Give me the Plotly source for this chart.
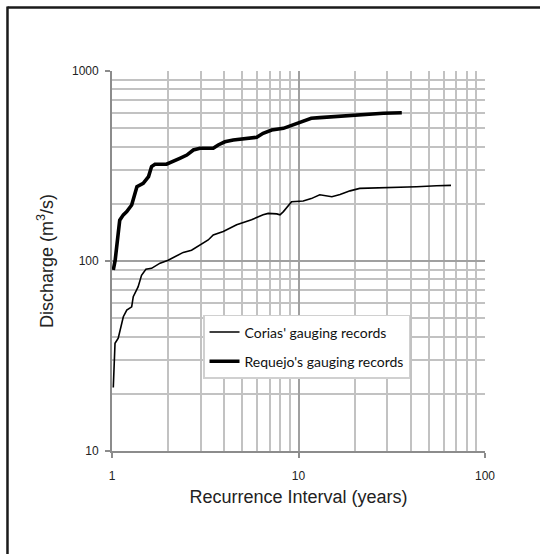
import plotly.graph_objects as go

# Corias' gauging records (thin line)
corias_x = [1.016, 1.038, 1.08, 1.15, 1.2, 1.275, 1.30, 1.38, 1.44, 1.52, 1.63, 1.81, 2.0,
            2.22, 2.41, 2.67, 3.09, 3.28, 3.49, 3.95, 4.66, 5.28, 5.6, 6.46, 6.88, 7.65,
            7.96, 8.3, 9.18, 10.6, 11.7, 13.0, 15.1, 16.7, 18.9, 21.3, 33.5, 43, 55, 65.7]
corias_y = [21.6, 36.9, 39.3, 50.9, 55.2, 57.4, 64.9, 73.1, 84, 90.5, 91.5, 97.4, 101,
            107, 111, 114, 125, 129, 137, 143, 155, 161, 165, 175, 178, 177,
            175, 182, 205, 207, 213, 223, 218, 224, 234, 241, 243, 246, 249, 250]

# Requejo's gauging records (thick line)
requejo_x = [1.016, 1.04, 1.08, 1.10, 1.15, 1.2, 1.275, 1.33, 1.36, 1.47, 1.57, 1.63, 1.70,
             1.96, 2.13, 2.31, 2.52, 2.73, 2.96, 3.49, 3.71, 4.03, 4.47, 5.28, 5.97, 6.46,
             7.18, 8.3, 9.0, 10.2, 11.7, 13.0, 15.3, 18.9, 23.2, 28.5, 35.8]
requejo_y = [89.7, 101, 140, 164, 175, 182, 197, 232, 246, 256, 278, 314, 323,
             323, 333, 347, 361, 384, 392, 392, 408, 424, 433, 442, 448, 470,
             489, 499, 513, 541, 564, 568, 575, 582, 592, 599, 603]

series_names = ["Corias' gauging records", "Requejo's gauging records"]
x_ticks = [1, 10, 100]
y_ticks = [10, 100, 1000]
x_minor = [m * d for d in (1, 10) for m in range(2, 10)]
y_minor = [m * d for d in (10, 100) for m in range(2, 10)]

fig = go.Figure()
fig.add_trace(go.Scatter(x=corias_x, y=corias_y, mode="lines", name=series_names[0],
                         line=dict(color="black", width=1.6), legendgroup="a"))
fig.add_trace(go.Scatter(x=requejo_x, y=requejo_y, mode="lines", name=series_names[1],
                         line=dict(color="black", width=3.6), legendgroup="b"))

axis_common = dict(
    showgrid=True, gridcolor="#a0a0a0", gridwidth=1.8,
    showline=True, linecolor="#8c8c8c", linewidth=1.8,
    ticks="outside", ticklen=5, tickcolor="#8c8c8c", tickwidth=1.5,
    zeroline=False,
    tickfont=dict(family="Liberation Sans, Arial", size=12, color="#222"),
)

fig.update_xaxes(type="log", range=[0, 2], tickvals=x_ticks, ticktext=[str(v) for v in x_ticks],
                 minor=dict(tickvals=x_minor, showgrid=True, gridcolor="#c2c2c2", gridwidth=1.8, ticks=""),
                 ticklabelstandoff=8,
                 title=dict(text="Recurrence Interval (years)", standoff=8,
                            font=dict(family="Liberation Sans, Arial", size=18, color="#222")),
                 **axis_common)
fig.update_yaxes(type="log", range=[1, 3], tickvals=y_ticks, ticktext=[str(v) for v in y_ticks],
                 minor=dict(tickvals=y_minor, showgrid=True, gridcolor="#c2c2c2", gridwidth=1.8, ticks=""),
                 ticklabelstandoff=4,
                 title=dict(text="Discharge (m<sup>3</sup>/s)", standoff=14,
                            font=dict(family="Liberation Sans, Arial", size=18, color="#222")),
                 **axis_common)

fig.update_layout(
    width=540, height=554,
    margin=dict(l=112, r=55, t=71, b=103),
    paper_bgcolor="white", plot_bgcolor="white",
    showlegend=True,
    legend=dict(x=0.244, y=0.358, xanchor="left", yanchor="top",
                bgcolor="white", bordercolor="#d0d0d0", borderwidth=1.5,
                traceorder="grouped", tracegroupgap=8,
                font=dict(family="Lato, Open Sans", size=14, color="#111")),
    shapes=[
        dict(type="line", xref="paper", yref="paper", x0=-0.2802, x1=1.2, y0=1.167, y1=1.167,
             line=dict(color="#1a1a1a", width=2.5)),
        dict(type="line", xref="paper", yref="paper", x0=-0.2802, x1=-0.2802, y0=1.17, y1=-0.28,
             line=dict(color="#1a1a1a", width=2.5)),
    ],
)

fig.write_html("out.html")
